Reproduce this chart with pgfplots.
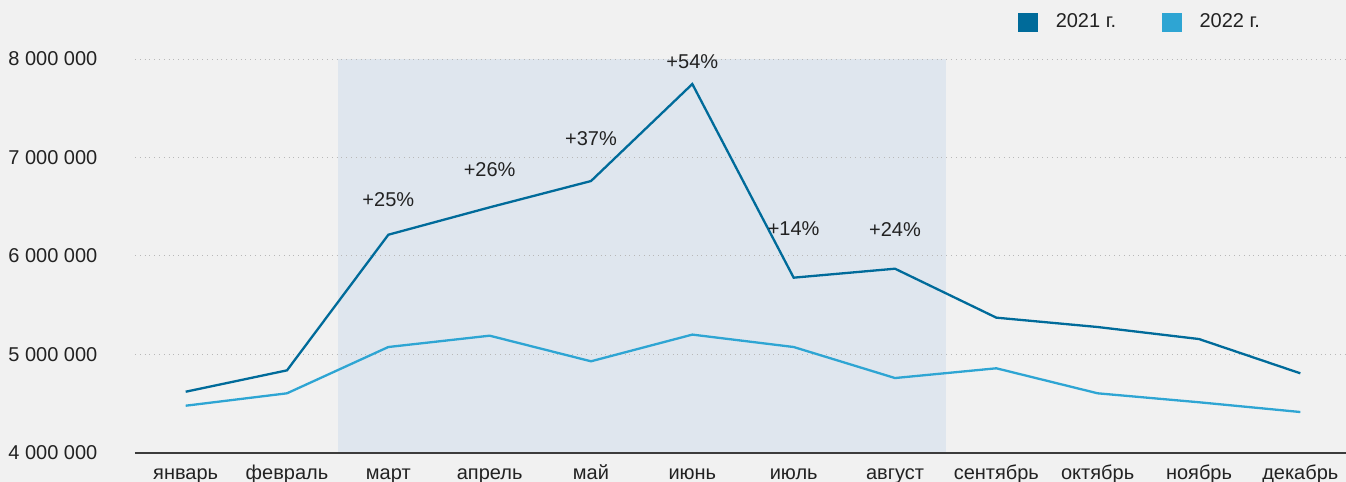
\documentclass[border=0pt]{standalone}
\usepackage{fontspec}
\setmainfont{Liberation Sans}
\usepackage{pgfplots}
\pgfplotsset{compat=1.18}
\definecolor{bg}{HTML}{F1F1F1}
\definecolor{shd}{HTML}{DFE6EE}
\definecolor{cA}{HTML}{006B9A}
\definecolor{cB}{HTML}{2EA5D3}
\definecolor{txt}{HTML}{222222}
\definecolor{axc}{HTML}{3C3C3C}
\begin{document}
\begin{tikzpicture}
\begin{axis}[
  scale only axis, width=608pt, height=197pt,
  at={(0pt,0pt)}, anchor=south west,
  xmin=-0.5, xmax=11.5, ymin=4000000, ymax=8000000,
  set layers, clip=false,
  scaled y ticks=false,
  axis lines*=left,
  y axis line style={draw=none},
  x axis line style={-, draw=axc, line width=0.9pt},
  tick style={draw=none}, major tick length=0pt,
  ymajorgrids, grid style={dotted, black!28, line width=0.5pt},
  ytick={4000000,5000000,6000000,7000000,8000000},
  yticklabels={4~000~000,5~000~000,6~000~000,7~000~000,8~000~000},
  xtick={0,...,11},
  xticklabels={январь,февраль,март,апрель,май,июнь,июль,август,сентябрь,октябрь,ноябрь,декабрь},
  ticklabel style={font=\fontsize{10}{12}\selectfont, text=txt},
  xticklabel style={anchor=base, yshift=-13.5pt},
  yticklabel style={anchor=west, inner xsep=0pt, xshift=-63.5pt},
  legend columns=2,
  legend cell align=left,
  legend style={draw=none, fill=none, at={(0.7262,1.0935)}, anchor=west,
    inner sep=0pt, font=\fontsize{10}{12}\selectfont, text=txt,
    nodes={inner sep=0pt},
    /tikz/every odd column/.append style={column sep=9pt},
    /tikz/every even column/.append style={column sep=23pt}},
  legend image code/.code={\fill[#1] (0pt,-4.25pt) rectangle (8.5pt,4.25pt);},
]
\begin{pgfonlayer}{axis background}
\fill[bg] (rel axis cs:-0.12,-0.08) rectangle (rel axis cs:1.01,1.16);
\fill[shd] (axis cs:1.5,4000000) rectangle (axis cs:7.5,8000000);
\end{pgfonlayer}
\addplot[cA, line width=1.15pt, mark=none] coordinates {
 (0,4622000) (1,4839000) (2,6216000) (3,6494000) (4,6761000) (5,7746000)
 (6,5780000) (7,5871000) (8,5374000) (9,5279000) (10,5157000) (11,4809000)};
\addlegendentry{2021 г.}
\addplot[cB, line width=1.15pt, mark=none] coordinates {
 (0,4480000) (1,4606000) (2,5076000) (3,5191000) (4,4931000) (5,5202000)
 (6,5076000) (7,4761000) (8,4860000) (9,4606000) (10,4515000) (11,4416000)};
\addlegendentry{2022 г.}
\begin{scope}[every node/.style={font=\fontsize{10}{12}\selectfont, text=txt}]
\node at (axis cs:2,6569000) {+25\%};
\node at (axis cs:3,6873000) {+26\%};
\node at (axis cs:4,7188000) {+37\%};
\node at (axis cs:5,7973000) {+54\%};
\node at (axis cs:6,6274000) {+14\%};
\node at (axis cs:7,6264000) {+24\%};
\end{scope}
\end{axis}
\pgfresetboundingbox
\path[use as bounding box] (-67.5pt,-14.5pt) rectangle (605.5pt,226.5pt);
\end{tikzpicture}
\end{document}
